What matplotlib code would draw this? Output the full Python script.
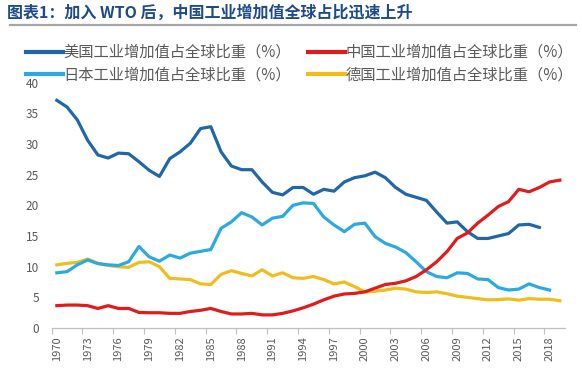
import matplotlib
matplotlib.use("Agg")
import matplotlib.pyplot as plt
from matplotlib.lines import Line2D
from matplotlib.ticker import FixedLocator

plt.rcParams['font.family'] = ['Noto Sans CJK SC', 'DejaVu Sans']

title = "图表1：加入 WTO 后，中国工业增加值全球占比迅速上升"
labels = ["美国工业增加值占全球比重（%）", "中国工业增加值占全球比重（%）",
          "日本工业增加值占全球比重（%）", "德国工业增加值占全球比重（%）"]

years_us = list(range(1970, 2018))
us = [37.1, 36.0, 33.9, 30.6, 28.2, 27.7, 28.5, 28.4, 27.1, 25.7,
      24.7, 27.6, 28.7, 30.1, 32.5, 32.8, 28.7, 26.4, 25.8, 25.8,
      23.8, 22.1, 21.7, 22.9, 22.9, 21.8, 22.6, 22.3, 23.8, 24.5,
      24.8, 25.4, 24.5, 22.9, 21.8, 21.3, 20.8, 18.9, 17.1, 17.3,
      15.7, 14.6, 14.6, 15.0, 15.4, 16.8, 16.9, 16.4]

years_cn = list(range(1970, 2020))
china = [3.65, 3.75, 3.75, 3.65, 3.2, 3.65, 3.2, 3.2, 2.55, 2.5,
         2.5, 2.4, 2.4, 2.7, 2.9, 3.2, 2.7, 2.3, 2.3, 2.4,
         2.15, 2.15, 2.4, 2.8, 3.3, 3.9, 4.6, 5.2, 5.55, 5.65,
         5.9, 6.5, 7.1, 7.3, 7.7, 8.4, 9.5, 10.8, 12.45, 14.6,
         15.5, 17.1, 18.4, 19.8, 20.6, 22.6, 22.2, 22.9, 23.8, 24.1]

years_jp = list(range(1970, 2019))
japan = [9.0, 9.2, 10.3, 11.1, 10.5, 10.3, 10.2, 10.8, 13.3, 11.6,
         10.9, 11.9, 11.4, 12.2, 12.5, 12.8, 16.25, 17.3, 18.8, 18.1,
         16.8, 17.9, 18.2, 20.0, 20.4, 20.3, 18.1, 16.8, 15.7, 16.9,
         17.1, 14.9, 13.8, 13.2, 12.3, 10.8, 9.2, 8.4, 8.2, 9.0,
         8.9, 8.0, 7.9, 6.6, 6.2, 6.35, 7.2, 6.6, 6.2]

years_de = list(range(1970, 2020))
germany = [10.3, 10.55, 10.7, 11.25, 10.55, 10.2, 10.0, 9.9, 10.7, 10.8,
           10.0, 8.1, 8.0, 7.9, 7.2, 7.1, 8.75, 9.35, 8.9, 8.5,
           9.5, 8.5, 9.0, 8.2, 8.1, 8.4, 7.9, 7.2, 7.5, 6.75,
           5.9, 6.0, 6.2, 6.5, 6.35, 5.9, 5.8, 5.9, 5.6, 5.2,
           5.0, 4.8, 4.6, 4.65, 4.75, 4.55, 4.8, 4.7, 4.7, 4.45]

xtick_labels = list(range(1970, 2019, 3))
yticks = [0, 5, 10, 15, 20, 25, 30, 35, 40]

c_us, c_cn, c_jp, c_de = "#1F67A8", "#E01B1B", "#2AAADE", "#F0BD1C"
gray = "#595959"

fig = plt.figure(figsize=(5.82, 3.73), dpi=100)
ax = fig.add_axes([0.0888, 0.1204, 0.9708 - 0.0888, 0.7788 - 0.1204])

lw = 2.3
l_us, = ax.plot(years_us, us, color=c_us, lw=lw, solid_joinstyle='round')
l_cn, = ax.plot(years_cn, china, color=c_cn, lw=lw, solid_joinstyle='round')
l_jp, = ax.plot(years_jp, japan, color=c_jp, lw=lw, solid_joinstyle='round')
l_de, = ax.plot(years_de, germany, color=c_de, lw=lw, solid_joinstyle='round')
l_de.set_zorder(1.5)
l_jp.set_zorder(2.2)
l_us.set_zorder(2.4)
l_cn.set_zorder(2.6)

ax.set_xlim(1969.5, 2019.5)
ax.set_ylim(0, 40)
ax.set_yticks(yticks)
ax.set_yticklabels([str(v) for v in yticks])
ax.set_xticks(xtick_labels)
ax.set_xticklabels([str(v) for v in xtick_labels], rotation=90)
ax.xaxis.set_minor_locator(FixedLocator([y - 0.5 for y in range(1970, 2021, 3)]))
ax.tick_params(axis='x', which='major', length=0, pad=6, labelsize=8, labelcolor=gray)
ax.tick_params(axis='x', which='minor', length=4, width=0.8, color="#BFBFBF")
ax.tick_params(axis='y', length=0, pad=9, labelsize=8.5, labelcolor=gray)
for s in ['top', 'right', 'left']:
    ax.spines[s].set_visible(False)
ax.spines['bottom'].set_color("#BFBFBF")
ax.spines['bottom'].set_linewidth(0.9)

fig.text(0.012, 0.967, title, fontsize=11.5, fontweight='bold', color="#1C4A8C",
         ha='left', va='center')
fig.add_artist(Line2D([0.017, 0.99], [0.933, 0.933], color="#A6A6A6", lw=1.6,
                      transform=fig.transFigure))

# column-major order: col1 = US, Japan; col2 = China, Germany
handles = [l_us, l_jp, l_cn, l_de]
leg_labels = [labels[0], labels[2], labels[1], labels[3]]
leg = fig.legend(handles, leg_labels, ncol=2, loc='upper left',
                 bbox_to_anchor=(0.045, 0.882), frameon=False, fontsize=11,
                 handlelength=2.4, handletextpad=0.05, columnspacing=1.1,
                 labelspacing=0.34, borderaxespad=0, borderpad=0)
for t in leg.get_texts():
    t.set_color(gray)
for h in leg.legend_handles:
    h.set_linewidth(3)

fig.savefig("out.png", dpi=100)
